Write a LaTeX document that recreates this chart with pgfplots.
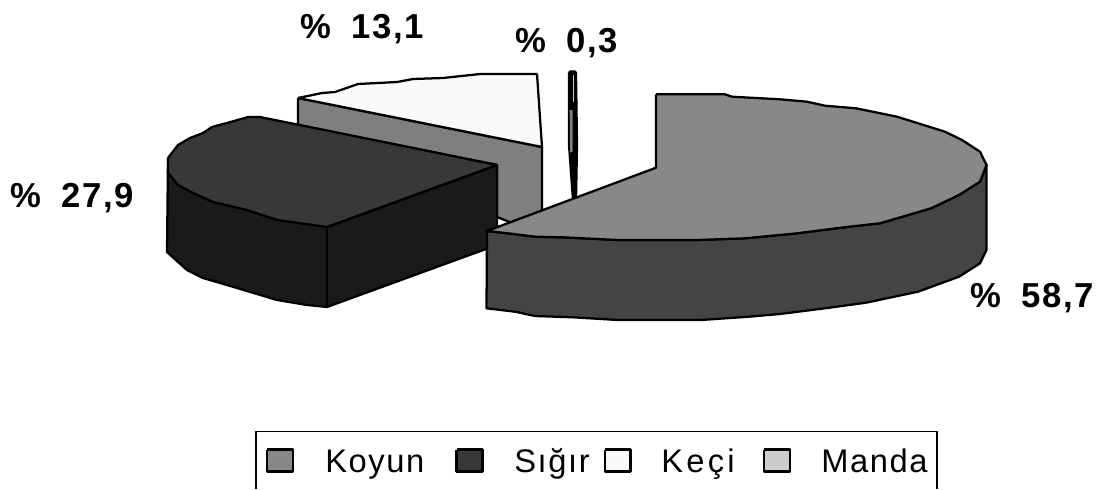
\documentclass[border=0pt]{standalone}
\usepackage{fontspec}
\usepackage{pgfplots}
\pgfplotsset{compat=1.18}
\setmainfont{Liberation Sans}
\newfontfamily\lab[LetterSpace=5]{Liberation Sans}
\newfontfamily\leg[LetterSpace=5]{Liberation Sans}
\newfontfamily\legk[LetterSpace=10]{Liberation Sans}
\definecolor{koyuntop}{HTML}{888888}
\definecolor{koyunside}{HTML}{444444}
\definecolor{sigirtop}{HTML}{383838}
\definecolor{sigirside}{HTML}{1A1A1A}
\definecolor{kecitop}{HTML}{FAFAFA}
\definecolor{keciside}{HTML}{7F7F7F}
\definecolor{manda}{HTML}{CCCCCC}
\begin{document}
\begin{tikzpicture}
\begin{axis}[
  scale only axis, width=828pt, height=366.75pt,
  xmin=0, xmax=1104, ymin=0, ymax=489, y dir=reverse,
  axis lines=box, axis line style={draw=none}, ticks=none, clip=false,
  every axis plot/.append style={line width=1.7pt, draw=black, line join=round, mark=none},
]
% Keci side
\addplot[fill=keciside] coordinates {(298,98)(542,147)(542,212)(512,223)(497,217)(497,165)(298,125)(298,98)};
% Keci top
\addplot[fill=kecitop] coordinates {(298,98)(322,93)(335,92)(358,84)(397,82)(413,79)(443,78)(480,74)(537,74)(542,147)(298,98)};
% Manda
\addplot[fill=black] coordinates {(569,73)(570,71.5)(575,71.5)(576,73)(577,145)(576,200)(573,200)(569,145)(569,73)};
\addplot[fill=manda,draw=none] coordinates {(572.7,75)(574.3,75)(574.3,102)(572.7,102)};
\addplot[fill=keciside,draw=none] coordinates {(569.7,110)(572.7,110)(572.7,152)(570,152)};
% Sigir side
\addplot[fill=sigirside] coordinates {(168,158)(167,252)(187,270)(203,278)(237,288)(277,300)(307,305)(327,307)(497,245)(497,165)(327,227)(168,158)};
\addplot[draw=black] coordinates {(327,227)(327,307)};
% Sigir top
\addplot[fill=sigirtop] coordinates {(168,158)(178,145)(190,138)(203,133)(212,127)(227,123)(248,117)(260,117)(497,165)(327,227)(313,225)(277,220)(247,210)(213,202)(193,193)(178,185)(168,173)(168,158)};
% Koyun side
\addplot[fill=koyunside] coordinates {(487,231)(486.5,308.3)(515,311.7)(535,316)(573,317.3)(618,320)(701,320)(749,316.7)(780,314)(825,308.3)(866,302.7)(918,291.7)(959,276.7)(980,263.3)(986.5,250)(986.5,165)(980,181.7)(959,195)(931,208.3)(880,223.3)(849,226.7)(797,233.3)(745,238.3)(697,240)(618,240)(563,237.3)(535,236.7)(508,233.3)(487,231)};
% Koyun top
\addplot[fill=koyuntop] coordinates {(656,94.3)(725,94.3)(732,96.7)(780,99.3)(807,101.7)(825,105.7)(856,108.3)(897,116.7)(945,131.7)(962,140)(980,151.7)(986.5,165)(980,181.7)(959,195)(931,208.3)(880,223.3)(849,226.7)(797,233.3)(745,238.3)(697,240)(618,240)(563,237.3)(535,236.7)(508,233.3)(487,231)(656,167.7)(656,94.3)};
% Legend frame
\addplot[line width=1pt] coordinates {(256,489)(256,431.5)(937,431.5)(937,489)};
% Legend swatches
\addplot[fill=koyuntop,line width=2pt] coordinates {(267,449.5)(293,449.5)(293,471.5)(267,471.5)(267,449.5)};
\addplot[fill=sigirtop,line width=2pt] coordinates {(456.5,449.5)(482.5,449.5)(482.5,471.5)(456.5,471.5)(456.5,449.5)};
\addplot[fill=kecitop,line width=2pt] coordinates {(605,449.5)(630.5,449.5)(630.5,471.5)(605,471.5)(605,449.5)};
\addplot[fill=manda,line width=2pt] coordinates {(764,449.5)(790,449.5)(790,471.5)(764,471.5)(764,449.5)};
% Legend text
\node[anchor=base west, inner sep=0pt, font=\fontsize{24.5}{28}\selectfont\leg] at (axis cs:325,472) {Koyun};
\node[anchor=base west, inner sep=0pt, font=\fontsize{24.5}{28}\selectfont\leg] at (axis cs:514,472) {Sığır};
\node[anchor=base west, inner sep=0pt, font=\fontsize{24.5}{28}\selectfont\legk] at (axis cs:661,472) {Keçi};
\node[anchor=base west, inner sep=0pt, font=\fontsize{24.5}{28}\selectfont\leg] at (axis cs:821,472) {Manda};
% Data labels
\node[anchor=base west, inner sep=0pt, font=\fontsize{26}{30}\selectfont\lab\bfseries] at (axis cs:300,38) {\%\hspace{15pt}13,1};
\node[anchor=base west, inner sep=0pt, font=\fontsize{26}{30}\selectfont\lab\bfseries] at (axis cs:515,52) {\%\hspace{15pt}0,3};
\node[anchor=base west, inner sep=0pt, font=\fontsize{26}{30}\selectfont\lab\bfseries] at (axis cs:10,207) {\%\hspace{15pt}27,9};
\node[anchor=base west, inner sep=0pt, font=\fontsize{26}{30}\selectfont\lab\bfseries] at (axis cs:970,307) {\%\hspace{15pt}58,7};
\end{axis}
\end{tikzpicture}
\end{document}
